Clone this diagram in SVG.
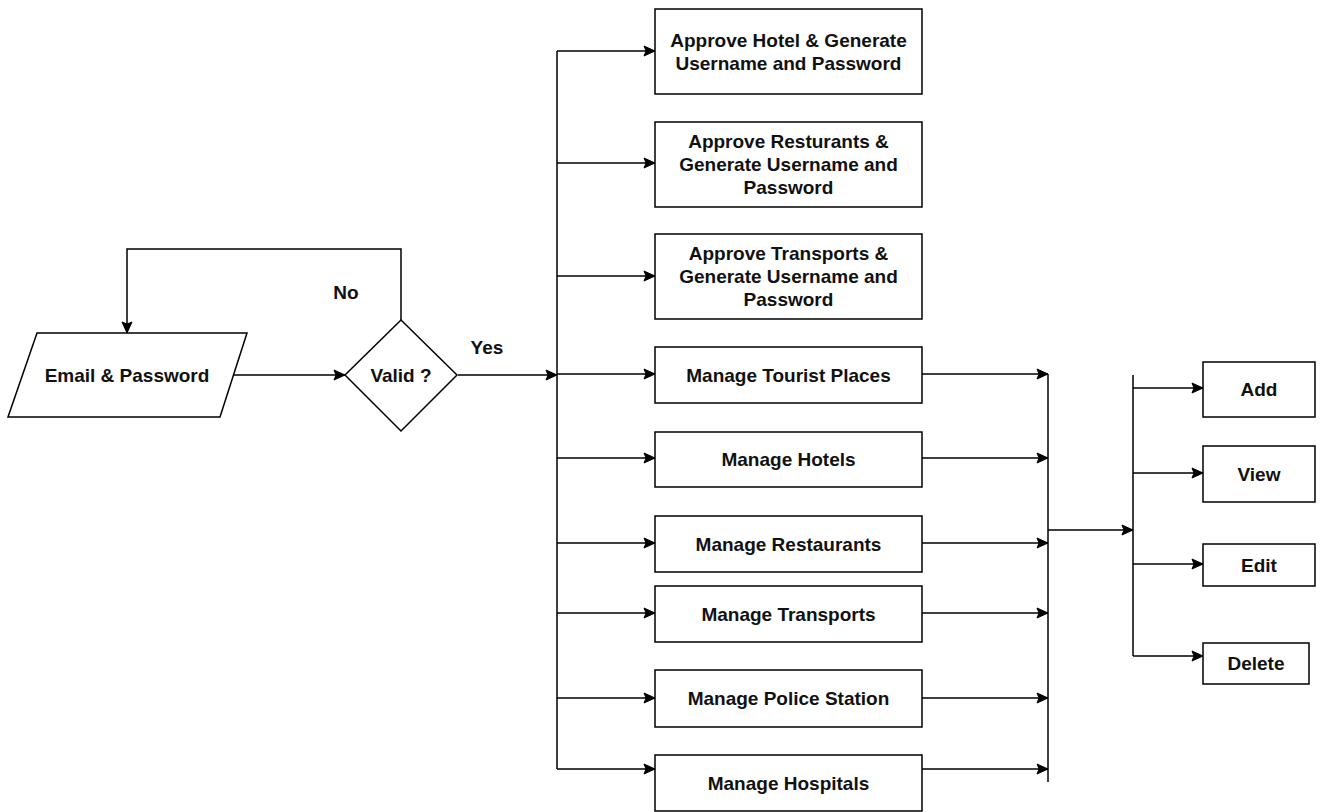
<svg xmlns="http://www.w3.org/2000/svg" width="1322" height="812" viewBox="0 0 1322 812">
  <style>
    .shape { fill: #ffffff; stroke: #000000; stroke-width: 1.5; }
    .edge { fill: none; stroke: #000000; stroke-width: 1.5; }
    .arrow { fill: none; stroke: #000000; stroke-width: 1.5; marker-end: url(#head); }
    text { font-family: "Liberation Sans", Arial, sans-serif; font-weight: bold; font-size: 19px; fill: #111111; text-anchor: middle; }
  </style>
  <defs>
    <marker id="head" markerUnits="userSpaceOnUse" markerWidth="14" markerHeight="14" refX="11" refY="6" orient="auto" overflow="visible">
      <path d="M0,1 L11,6 L0,11 L2,6 Z" fill="#000000" stroke="#000000" stroke-width="1" stroke-linejoin="round"/>
    </marker>
  </defs>
  <rect width="1322" height="812" fill="#ffffff"/>

  <!-- connectors -->
  <g id="connectors">
    <!-- input to decision, retry loop -->
    <path class="arrow" d="M221,375 H345"/>
    <path class="arrow" d="M401,320 V249 H127 V333"/>
    <!-- left distribution bus -->
    <path class="arrow" d="M458,375 H557"/>
    <path class="edge" d="M557,51 V769"/>
    <path class="arrow" d="M557,51 H655"/>
    <path class="arrow" d="M557,163 H655"/>
    <path class="arrow" d="M557,276 H655"/>
    <path class="arrow" d="M557,374 H655"/>
    <path class="arrow" d="M557,458 H655"/>
    <path class="arrow" d="M557,543 H655"/>
    <path class="arrow" d="M557,613 H655"/>
    <path class="arrow" d="M557,698 H655"/>
    <path class="arrow" d="M557,769 H655"/>
    <!-- collecting bus on the right -->
    <path class="edge" d="M1048,374 V782"/>
    <path class="arrow" d="M922,374 H1048"/>
    <path class="arrow" d="M922,458 H1048"/>
    <path class="arrow" d="M922,543 H1048"/>
    <path class="arrow" d="M922,613 H1048"/>
    <path class="arrow" d="M922,698 H1048"/>
    <path class="arrow" d="M922,769 H1048"/>
    <path class="arrow" d="M1048,530 H1133"/>
    <!-- CRUD bus -->
    <path class="edge" d="M1133,375 V656"/>
    <path class="arrow" d="M1133,388 H1203"/>
    <path class="arrow" d="M1133,473 H1203"/>
    <path class="arrow" d="M1133,564 H1203"/>
    <path class="arrow" d="M1133,656 H1203"/>
  </g>

  <!-- edge labels -->
  <text x="346" y="299">No</text>
  <text x="487" y="354">Yes</text>

  <g id="login">
    <polygon class="shape" points="37,333 247,333 220,417 8,417"/>
    <text x="127" y="382">Email &amp; Password</text>
  </g>

  <g id="valid">
    <polygon class="shape" points="401,320 457,375 401,431 345,375"/>
    <text x="401" y="382">Valid ?</text>
  </g>

  <g id="approve-hotel">
    <rect class="shape" x="655" y="9" width="267" height="85"/>
    <text x="788.5" y="47">Approve Hotel &amp; Generate</text>
    <text x="788.5" y="70">Username and Password</text>
  </g>

  <g id="approve-restaurants">
    <rect class="shape" x="655" y="122" width="267" height="85"/>
    <text x="788.5" y="148">Approve Resturants &amp;</text>
    <text x="788.5" y="171">Generate Username and</text>
    <text x="788.5" y="194">Password</text>
  </g>

  <g id="approve-transports">
    <rect class="shape" x="655" y="234" width="267" height="85"/>
    <text x="788.5" y="260">Approve Transports &amp;</text>
    <text x="788.5" y="283">Generate Username and</text>
    <text x="788.5" y="306">Password</text>
  </g>

  <g id="manage-tourist-places">
    <rect class="shape" x="655" y="347" width="267" height="56"/>
    <text x="788.5" y="382">Manage Tourist Places</text>
  </g>

  <g id="manage-hotels">
    <rect class="shape" x="655" y="432" width="267" height="55"/>
    <text x="788.5" y="466">Manage Hotels</text>
  </g>

  <g id="manage-restaurants">
    <rect class="shape" x="655" y="516" width="267" height="56"/>
    <text x="788.5" y="551">Manage Restaurants</text>
  </g>

  <g id="manage-transports">
    <rect class="shape" x="655" y="586" width="267" height="56"/>
    <text x="788.5" y="621">Manage Transports</text>
  </g>

  <g id="manage-police-station">
    <rect class="shape" x="655" y="670" width="267" height="57"/>
    <text x="788.5" y="705">Manage Police Station</text>
  </g>

  <g id="manage-hospitals">
    <rect class="shape" x="655" y="755" width="267" height="56"/>
    <text x="788.5" y="790">Manage Hospitals</text>
  </g>

  <g id="add">
    <rect class="shape" x="1203" y="362" width="112" height="55"/>
    <text x="1259" y="396">Add</text>
  </g>

  <g id="view">
    <rect class="shape" x="1203" y="446" width="112" height="56"/>
    <text x="1259" y="481">View</text>
  </g>

  <g id="edit">
    <rect class="shape" x="1203" y="544" width="112" height="42"/>
    <text x="1259" y="572">Edit</text>
  </g>

  <g id="delete">
    <rect class="shape" x="1203" y="643" width="106" height="41"/>
    <text x="1256" y="670">Delete</text>
  </g>
</svg>
